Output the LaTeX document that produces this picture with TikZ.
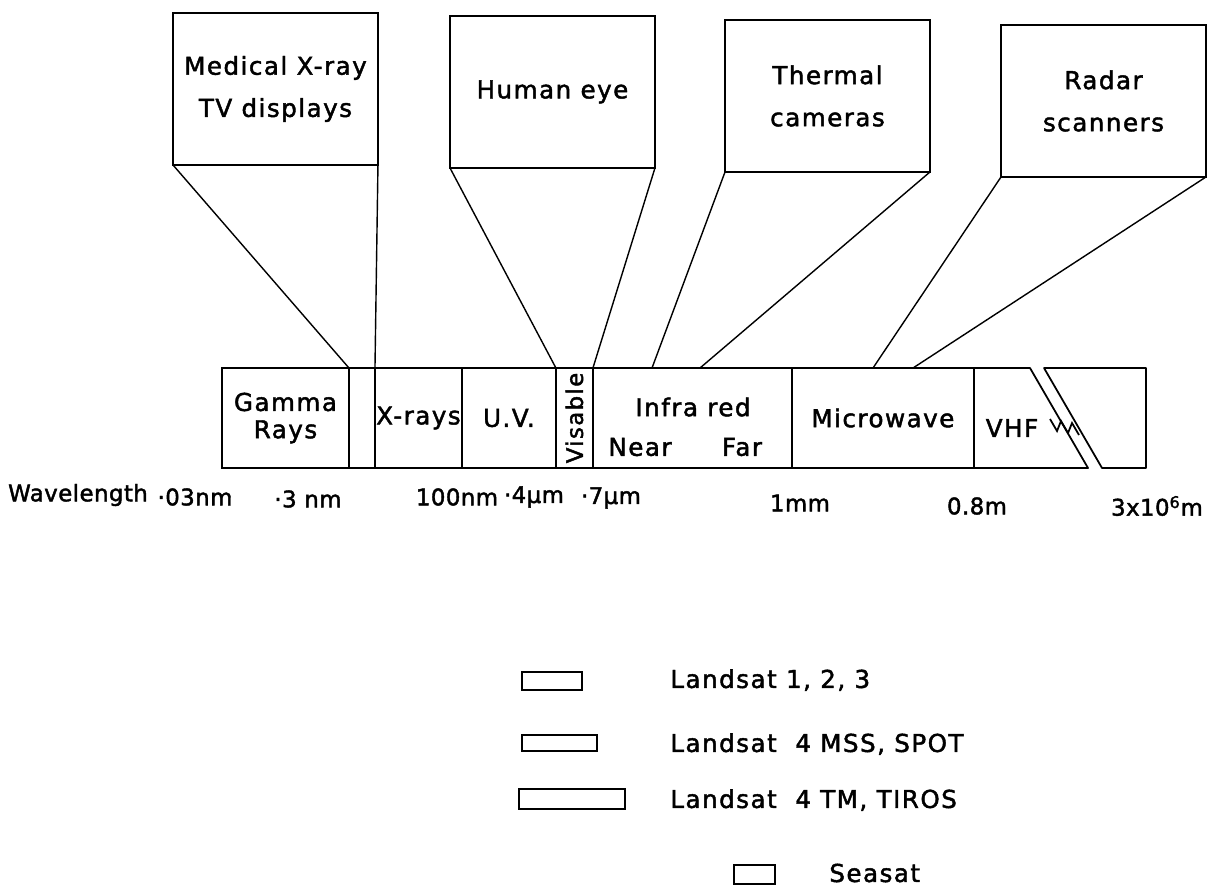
\documentclass[tikz,border=0pt]{standalone}
\usepackage{fontspec}
\setmainfont{DejaVu Sans}[LetterSpace=6, FakeBold=1.8]
\usetikzlibrary{positioning}

\begin{document}
\begin{tikzpicture}[x=0.02cm, y=-0.02cm, every node/.style={font=\fontsize{14}{24}\selectfont},
	app/.style={draw, rectangle, line width=1.3pt, inner sep=0pt, outer sep=0pt, anchor=north west, minimum width=4.1cm, minimum height=3.04cm, align=center},
	cell/.style={draw, rectangle, line width=1pt, inner sep=0pt, outer sep=0pt, anchor=north west, minimum height=2cm, align=center, font=\fontsize{14}{15.5}\selectfont},
	bar/.style={draw=black, line width=1pt, line join=round},
	link/.style={draw=black, line width=0.8pt},
	key/.style={draw, rectangle, line width=1.2pt, inner sep=0pt, anchor=north west},
	wl/.style={inner sep=0pt, font=\fontsize{13}{15}\selectfont\addfontfeatures{LetterSpace=2}}]
	\useasboundingbox (0,0) rectangle (1223,889);

	% detector boxes
	\node[app] (xray box) at (173,13) {Medical X-ray\\TV displays};
	\node[app] (eye box) at (450,16) {Human eye};
	\node[app] (therm box) at (725,20) {Thermal\\cameras};
	\node[app] (radar box) at (1001,25) {Radar\\scanners};

	% the spectrum
	\node[cell, minimum width=2.54cm] (gamma) at (222,368) {Gamma\\Rays};
	\node[cell, minimum width=0.52cm] (gap) at (gamma.north east) {};
	\node[cell, minimum width=1.74cm] (xray) at (gap.north east) {X-rays};
	\node[cell, minimum width=1.88cm] (uv) at (xray.north east) {U.V.};
	\node[cell, minimum width=0.74cm] (vis) at (uv.north east) {};
	\node[rotate=90, font=\fontsize{13}{15}\selectfont] (vis text) at (vis.center) {Visable};
	\node[cell, minimum width=3.98cm] (ir) at (vis.north east) {};
	\node (ir text) at (693,407) {Infra\ red};
	\node (near) at (640,447) {Near};
	\node (far) at (742,447) {Far};
	\node[cell, minimum width=3.64cm] (micro) at (ir.north east) {Microwave};
	\coordinate (brk a) at (1030,368);
	\coordinate (brk b) at (1088,468);
	\coordinate (brk c) at (1044,368);
	\coordinate (brk d) at (1102,468);
	\coordinate (end top) at (1146,368);
	\coordinate (end bot) at (1146,468);
	\draw[bar] (micro.north east) -- (brk a) -- (brk b) -- (micro.south east);
	\draw[bar] (brk c) -- (end top) -- (end bot) -- (brk d) -- cycle;
	\node (vhf) at (1012,428) {VHF};
	\draw[link, line width=1pt] (1050,419) -- (1057,431) -- (1061,421) -- (1068,433) -- (1072,423) -- (1079,435);

	% where the boxes look
	\coordinate (ir a) at (652,368);
	\coordinate (ir b) at (700,368);
	\coordinate (mw a) at (873,368);
	\coordinate (mw b) at (913,368);
	\draw[link] (xray box.south west) -- (gamma.north east);
	\draw[link] (xray box.south east) -- (xray.north west);
	\draw[link] (eye box.south west) -- (vis.north west);
	\draw[link] (eye box.south east) -- (vis.north east);
	\draw[link] (therm box.south west) -- (ir a);
	\draw[link] (therm box.south east) -- (ir b);
	\draw[link] (radar box.south west) -- (mw a);
	\draw[link] (radar box.south east) -- (mw b);

	% wavelengths
	\node[wl] (wl) at (78,495) {Wavelength};
	\node[wl] (wl1) at (195,497) {·03nm};
	\node[wl] (wl2) at (308,499) {·3 nm};
	\node[wl] (wl3) at (457,497) {100nm};
	\node[wl] (wl4) at (534,497) {·4µm};
	\node[wl] (wl5) at (611,498) {·7µm};
	\node[wl] (wl6) at (800,503) {1mm};
	\node[wl] (wl7) at (977,506) {0.8m};
	\node[wl] (wl8) at (1157,506) {3x10\textsuperscript{6}m};

	% key
	\node[key, minimum width=1.2cm, minimum height=0.36cm] (k1) at (521,671) {};
	\node[key, minimum width=1.5cm, minimum height=0.32cm] (k2) at (521,734) {};
	\node[key, minimum width=2.12cm, minimum height=0.4cm] (k3) at (518,788) {};
	\node[key, minimum width=0.82cm, minimum height=0.38cm] (k4) at (733,864) {};
	\node[anchor=west, inner sep=0pt] (k1 text) at (670,680) {Landsat 1, 2, 3};
	\node[anchor=west, inner sep=0pt] (k2 text) at (670,744) {Landsat\ \ 4 MSS, SPOT};
	\node[anchor=west, inner sep=0pt] (k3 text) at (670,800) {Landsat\ \ 4 TM, TIROS};
	\node[anchor=west, inner sep=0pt] (k4 text) at (829,873) {Seasat};
\end{tikzpicture}
\end{document}
